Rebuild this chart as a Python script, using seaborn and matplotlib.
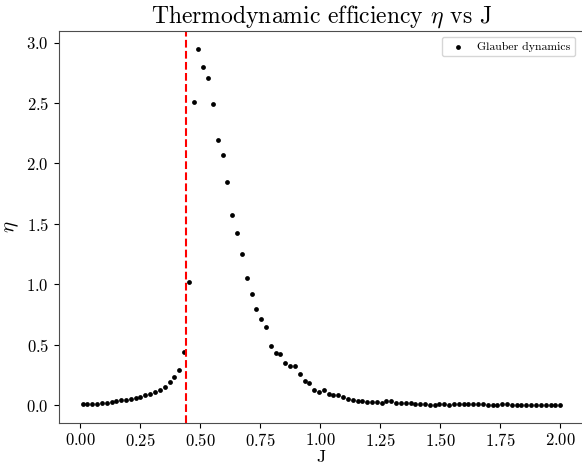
"""Thermodynamic efficiency eta vs coupling J (Glauber dynamics)"""
import matplotlib
matplotlib.use("Agg")
import matplotlib.pyplot as plt
import numpy as np
import seaborn as sns

J = [0.010, 0.030, 0.050, 0.070, 0.090, 0.111, 0.131, 0.151, 0.171, 0.191,
     0.211, 0.231, 0.251, 0.271, 0.291, 0.312, 0.332, 0.352, 0.372, 0.392,
     0.412, 0.432, 0.452, 0.472, 0.492, 0.513, 0.533, 0.553, 0.573, 0.593,
     0.613, 0.633, 0.653, 0.673, 0.693, 0.714, 0.734, 0.754, 0.774, 0.794,
     0.814, 0.834, 0.854, 0.874, 0.894, 0.915, 0.935, 0.955, 0.975, 0.995,
     1.015, 1.035, 1.055, 1.075, 1.095, 1.116, 1.136, 1.156, 1.176, 1.196,
     1.216, 1.236, 1.256, 1.276, 1.296, 1.317, 1.337, 1.357, 1.377, 1.397,
     1.417, 1.437, 1.457, 1.477, 1.497, 1.518, 1.538, 1.558, 1.578, 1.598,
     1.618, 1.638, 1.658, 1.678, 1.698, 1.719, 1.739, 1.759, 1.779, 1.799,
     1.819, 1.839, 1.859, 1.879, 1.899, 1.920, 1.940, 1.960, 1.980, 2.000]

eta = [0.005, 0.006, 0.007, 0.011, 0.014, 0.021, 0.027, 0.033, 0.041, 0.045,
       0.053, 0.059, 0.069, 0.081, 0.094, 0.111, 0.126, 0.148, 0.189, 0.236,
       0.294, 0.442, 1.02, 2.51, 2.95, 2.80, 2.71, 2.49, 2.19, 2.07,
       1.85, 1.57, 1.42, 1.25, 1.05, 0.92, 0.796, 0.713, 0.649, 0.492,
       0.434, 0.420, 0.345, 0.323, 0.323, 0.260, 0.202, 0.185, 0.124, 0.110,
       0.122, 0.094, 0.083, 0.083, 0.066, 0.052, 0.039, 0.036, 0.030, 0.025,
       0.022, 0.022, 0.019, 0.030, 0.033, 0.019, 0.017, 0.019, 0.014, 0.006,
       0.008, 0.008, 0.002, 0.002, 0.008, 0.006, 0.002, 0.006, 0.011, 0.006,
       0.006, 0.008, 0.006, 0.006, 0.004, 0.004, 0.004, 0.006, 0.006, 0.004,
       0.004, 0.004, 0.004, 0.004, 0.004, 0.003, 0.003, 0.003, 0.003, 0.003]

J_CRIT = 0.4407  # Onsager critical coupling

plt.rcParams["font.family"] = "serif"
plt.rcParams["font.serif"] = ["cmr10", "DejaVu Serif"]
plt.rcParams["mathtext.fontset"] = "cm"
plt.rcParams["axes.formatter.use_mathtext"] = True

fig, ax = plt.subplots(figsize=(5.82, 4.66), dpi=100)
# axes run slightly past the right edge of the canvas, as in the original crop
fig.subplots_adjust(left=0.101, right=1.0034, top=0.934, bottom=0.093)

sns.scatterplot(x=J, y=eta, color="black", s=12, linewidth=0,
                label="Glauber dynamics", ax=ax)
ax.axvline(J_CRIT, color="red", ls="--", lw=1.5)

ax.set_title(r"Thermodynamic efficiency $\eta$ vs J", fontsize=17)
ax.set_xlabel("J", fontsize=13, labelpad=0)
ax.set_ylabel(r"$\eta$", fontsize=15)
ax.set_xticks(np.arange(0, 2.01, 0.25))
ax.set_yticks(np.arange(0, 3.01, 0.5))
ax.tick_params(labelsize=12)
for sp in ax.spines.values():
    sp.set_color("0.3")

ax.legend(loc="upper right", fontsize=8.5, handletextpad=0.6,
          bbox_to_anchor=(0.994, 1.0))

fig.savefig("out.png", dpi=100)
plt.close(fig)
